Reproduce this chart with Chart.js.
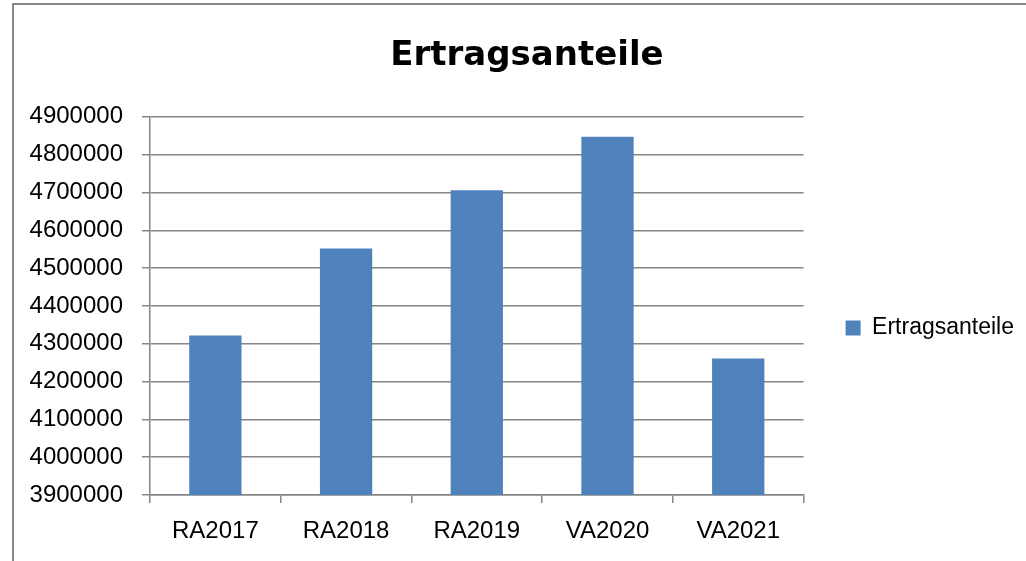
<!DOCTYPE html>
<html>
<head>
<meta charset="utf-8">
<script src="https://cdn.jsdelivr.net/npm/chart.js@4"></script>
<style>
  html, body { margin: 0; padding: 0; background: #fff; }
  #wrap { position: relative; width: 1026px; height: 561px; overflow: hidden; }
  #frame { position: absolute; left: 12px; top: 3px; width: 1100px; height: 700px;
           border-left: 2px solid #888; border-top: 2px solid #888; }
  canvas { position: absolute; left: 0; top: 0; }
</style>
</head>
<body>
<div id="wrap">
  <div id="frame"></div>
  <canvas id="chart" width="1026" height="561"></canvas>
</div>
<script>
var categories = ['RA2017', 'RA2018', 'RA2019', 'VA2020', 'VA2021'];
var ertragsanteile = [4322000, 4552000, 4706000, 4847000, 4261000];
var yMin = 3900000;
var yMax = 4900000;
var yStep = 100000;

var gridColor = '#868686';
var labelFont = { family: '"Liberation Sans", Arial, sans-serif', size: 24 };

new Chart(document.getElementById('chart'), {
    type: 'bar',
    data: {
        labels: categories,
        datasets: [{
            label: 'Ertragsanteile',
            data: ertragsanteile,
            backgroundColor: '#4F81BD',
            borderWidth: 0,
            barPercentage: 0.4,
            categoryPercentage: 1.0
        }]
    },
    options: {
        responsive: false,
        animation: false,
        events: [],
        layout: { padding: { left: 30, right: 2, top: 0, bottom: 0 } },
        plugins: {
            title: {
                display: true,
                text: 'Ertragsanteile',
                color: '#000',
                font: { family: '"DejaVu Sans", sans-serif', size: 34, weight: 'bold', lineHeight: 1.2 },
                padding: { top: 36, bottom: 40 }
            },
            legend: {
                position: 'right',
                fullSize: false,
                // empty legend title only pushes the single entry down to where Excel puts it
                title: { display: true, text: ' ', font: { size: 10, lineHeight: 1.2 }, padding: { top: 16, bottom: 16 } },
                labels: {
                    color: '#000',
                    font: { family: labelFont.family, size: 23 },
                    boxWidth: 15,
                    boxHeight: 15,
                    padding: 42
                }
            },
            tooltip: { enabled: false }
        },
        scales: {
            x: {
                grid: { drawOnChartArea: false, drawTicks: true, tickLength: 8, color: gridColor, lineWidth: 1.5 },
                border: { color: gridColor, width: 1.5 },
                ticks: { color: '#000', font: labelFont, padding: 14, maxRotation: 0 },
                afterFit: function (scale) { scale.height = 66; }
            },
            y: {
                min: yMin,
                max: yMax,
                grid: { color: gridColor, lineWidth: 1.5, tickLength: 8 },
                border: { color: gridColor, width: 1.5 },
                ticks: {
                    stepSize: yStep,
                    color: '#000',
                    font: labelFont,
                    padding: 19,
                    callback: function (v) { return String(v); }
                },
                afterFit: function (scale) { scale.width = 120; }
            }
        }
    }
});
</script>
</body>
</html>
